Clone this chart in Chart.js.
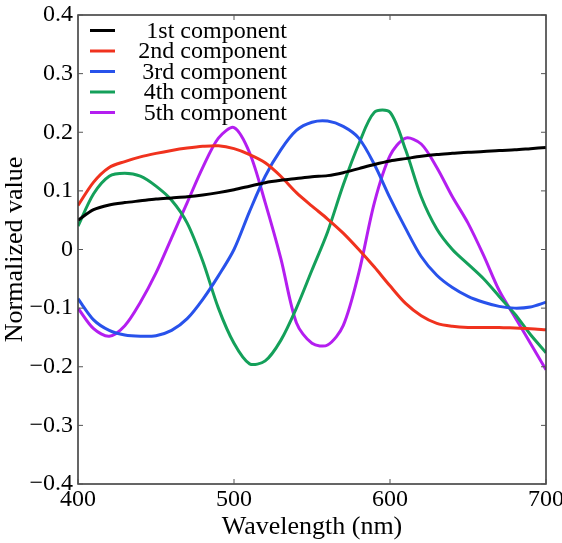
<!DOCTYPE html>
<html>
<head>
<meta charset="utf-8">
<script src="https://cdn.jsdelivr.net/npm/chart.js@4/dist/chart.umd.min.js"></script>
<style>
  html, body { margin: 0; padding: 0; background: #fff; }
  #wrap { width: 562px; height: 543px; position: relative; }
</style>
</head>
<body>
<div id="wrap"><canvas id="grafico"></canvas></div>
<script>
const wavelengths = [400, 410, 420, 430, 440, 450, 460, 470, 480, 490, 500, 510, 520, 530, 540, 550,
  560, 570, 580, 590, 600, 610, 620, 630, 640, 650, 660, 670, 680, 690, 700];

const comp1 = [0.050, 0.068, 0.076, 0.080, 0.083, 0.086, 0.088, 0.090, 0.093, 0.097, 0.102, 0.108,
  0.114, 0.118, 0.121, 0.124, 0.126, 0.131, 0.138, 0.145, 0.151, 0.155, 0.159, 0.162, 0.164, 0.166,
  0.167, 0.169, 0.170, 0.172, 0.174];
const comp2 = [0.075, 0.115, 0.140, 0.150, 0.158, 0.164, 0.169, 0.173, 0.176, 0.177, 0.172, 0.162,
  0.148, 0.125, 0.097, 0.074, 0.052, 0.028, 0.000, -0.030, -0.062, -0.092, -0.113, -0.126, -0.131,
  -0.133, -0.133, -0.133, -0.134, -0.135, -0.137];
const comp3 = [-0.084, -0.120, -0.138, -0.146, -0.148, -0.147, -0.138, -0.118, -0.085, -0.045, 0.000,
  0.065, 0.125, 0.170, 0.203, 0.217, 0.219, 0.210, 0.190, 0.145, 0.088, 0.036, -0.012, -0.044, -0.065,
  -0.080, -0.090, -0.097, -0.100, -0.098, -0.090];
const comp4 = [0.040, 0.095, 0.125, 0.130, 0.125, 0.108, 0.084, 0.045, -0.020, -0.100, -0.160, -0.195,
  -0.190, -0.155, -0.100, -0.035, 0.030, 0.110, 0.180, 0.234, 0.234, 0.170, 0.090, 0.035, 0.000,
  -0.025, -0.050, -0.080, -0.110, -0.145, -0.176];
const comp5 = [-0.100, -0.135, -0.148, -0.130, -0.090, -0.040, 0.020, 0.080, 0.140, 0.190, 0.208, 0.165,
  0.080, -0.015, -0.125, -0.160, -0.163, -0.130, -0.040, 0.080, 0.160, 0.190, 0.180, 0.140, 0.090,
  0.045, -0.010, -0.070, -0.115, -0.160, -0.205];

const seriesNames = ['1st component', '2nd component', '3rd component', '4th component', '5th component'];
const yTicks = [-0.4, -0.3, -0.2, -0.1, 0, 0.1, 0.2, 0.3, 0.4];
const xTicks = [400, 500, 600, 700];

const colores = ['#000000', '#f0321e', '#2852eb', '#14a05a', '#b41ef0'];
const fuente = '"Liberation Serif", "Times New Roman", serif';

function serie(i, vals) {
  return {
    label: seriesNames[i],
    data: wavelengths.map((w, k) => ({ x: w, y: vals[k] })),
    borderColor: colores[i],
    backgroundColor: colores[i],
    borderWidth: 3,
    pointRadius: 0,
    tension: 0.3,
    fill: false
  };
}

function etiqueta(v) {
  if (Math.abs(v) < 1e-9) return '0';
  return v < 0 ? '\u2212' + Math.abs(v).toFixed(1) : v.toFixed(1);
}

// marco, ticks hacia dentro y leyenda dentro del area
const marcoPlugin = {
  id: 'marco',
  afterDraw(chart) {
    const { ctx, chartArea: a, scales } = chart;
    ctx.save();
    ctx.strokeStyle = '#333';
    ctx.lineWidth = 1.5;
    ctx.strokeRect(a.left, a.top, a.right - a.left, a.bottom - a.top);
    ctx.lineWidth = 1;
    ctx.strokeStyle = '#555';
    xTicks.forEach(v => {
      const px = scales.x.getPixelForValue(v);
      ctx.beginPath();
      ctx.moveTo(px, a.bottom); ctx.lineTo(px, a.bottom - 5);
      ctx.moveTo(px, a.top); ctx.lineTo(px, a.top + 5);
      ctx.stroke();
    });
    yTicks.forEach(v => {
      const py = scales.y.getPixelForValue(v);
      ctx.beginPath();
      ctx.moveTo(a.left, py); ctx.lineTo(a.left + 5, py);
      ctx.moveTo(a.right, py); ctx.lineTo(a.right - 5, py);
      ctx.stroke();
    });

    // leyenda
    ctx.font = '24px ' + fuente;
    ctx.textAlign = 'right';
    ctx.textBaseline = 'middle';
    chart.data.datasets.forEach((ds, i) => {
      const y = a.top + 15.5 + i * 20.5;
      ctx.strokeStyle = ds.borderColor;
      ctx.lineWidth = 3;
      ctx.beginPath();
      ctx.moveTo(a.left + 12, y);
      ctx.lineTo(a.left + 37, y);
      ctx.stroke();
      ctx.fillStyle = '#000';
      ctx.fillText(ds.label, a.left + 209, y + 1);
    });
    ctx.restore();
  }
};

const config = {
  type: 'line',
  data: {
    datasets: [serie(0, comp1), serie(1, comp2), serie(2, comp3), serie(3, comp4), serie(4, comp5)]
  },
  options: {
    responsive: true,
    maintainAspectRatio: false,
    animation: false,
    layout: { padding: { left: 0, right: 16, top: 15, bottom: 0 } },
    plugins: {
      legend: { display: false },
      tooltip: { enabled: false }
    },
    scales: {
      x: {
        type: 'linear',
        min: 400,
        max: 700,
        afterBuildTicks: (s) => { s.ticks = xTicks.map(v => ({ value: v })); },
        afterFit: (s) => { s.height = 59; s.paddingLeft = 0; s.paddingRight = 0; },
        grid: { display: false, drawTicks: false },
        border: { display: false },
        ticks: {
          color: '#000',
          padding: 1,
          maxRotation: 0,
          font: { family: fuente, size: 24 },
          callback: (v) => String(v)
        },
        title: {
          display: true,
          text: 'Wavelength (nm)',
          color: '#000',
          padding: { top: 1, bottom: 0 },
          font: { family: fuente, size: 26 }
        }
      },
      y: {
        min: -0.4,
        max: 0.4,
        afterBuildTicks: (s) => { s.ticks = yTicks.map(v => ({ value: v })); },
        afterFit: (s) => { s.width = 78; s.paddingTop = 0; s.paddingBottom = 0; },
        grid: { display: false, drawTicks: false },
        border: { display: false },
        ticks: {
          color: '#000',
          padding: 5,
          font: { family: fuente, size: 24 },
          callback: (v) => etiqueta(v)
        },
        title: {
          display: true,
          text: 'Normalized value',
          color: '#000',
          padding: { top: 0, bottom: 2 },
          font: { family: fuente, size: 26 }
        }
      }
    }
  },
  plugins: [marcoPlugin]
};

window.addEventListener('DOMContentLoaded', () => {
  const ctx = document.getElementById('grafico').getContext('2d');
  new Chart(ctx, config);
});
</script>
</body>
</html>
